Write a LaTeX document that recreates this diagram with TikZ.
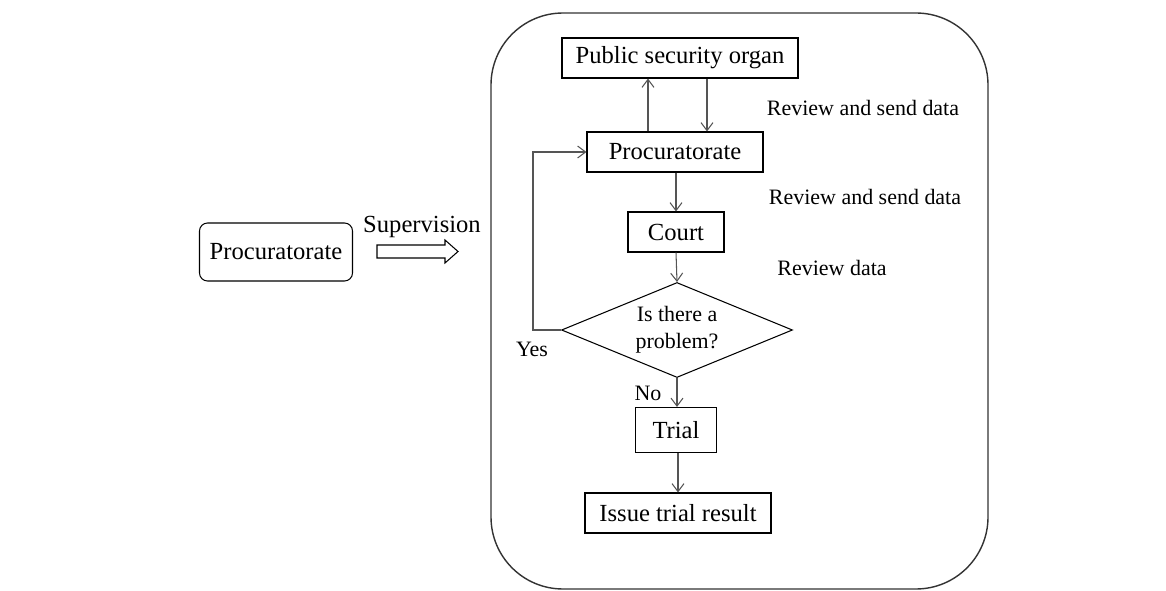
\documentclass[tikz,border=0pt]{standalone}
\usepackage{fontspec}
\setmainfont{Liberation Serif}
\usepackage{tikz}
\usetikzlibrary{calc,shapes.geometric,arrows.meta}

\definecolor{linegray}{RGB}{85,85,85}

\tikzset{
  box/.style={draw=black, line width=0.6pt, inner sep=0pt, font=\fontsize{14}{16}\selectfont},
  lbl/.style={inner sep=0pt, font=\fontsize{12.5}{15}\selectfont},
  arr/.style={draw=linegray, line width=0.6pt, -{Straight Barb[length=1.6mm,width=2.4mm]}}
}

\begin{document}
\begin{tikzpicture}
        \useasboundingbox (0,0) rectangle (23.32,11.8);

        % outer frame
        \draw[line width=0.8pt, draw=black!80, rounded corners=1.44cm] (9.82,0.02) rectangle (19.76,11.54);

        % left node
        \node[box, rounded corners=0.16cm, minimum width=3.06cm, minimum height=1.16cm] (lproc) at (5.52,6.76) {Procuratorate};
        \node[inner sep=0pt, font=\fontsize{14}{16}\selectfont] (sup) at (8.44,7.26) {Supervision};

        % hollow arrow
        \draw[line width=0.6pt] (7.54,6.9) -- (8.9,6.9) -- (8.9,7.0) -- (9.16,6.77)
              -- (8.9,6.54) -- (8.9,6.64) -- (7.54,6.64) -- cycle;

        % flow nodes
        \node[box, minimum width=4.72cm, minimum height=0.8cm] (pso) at (13.6,10.64) {Public security organ};
        \node[box, minimum width=3.52cm, minimum height=0.8cm] (proc) at (13.5,8.76) {Procuratorate};
        \node[box, minimum width=1.92cm, minimum height=0.8cm] (court) at (13.52,7.16) {Court};
        \node[draw=black, line width=0.6pt, diamond, aspect=2.4, inner sep=0pt,
              minimum width=4.62cm, minimum height=1.9cm, align=center,
              font=\fontsize{12.5}{15.3}\selectfont] (dia) at (13.54,5.2) {Is there a\\problem?};
        \node[box, minimum width=1.62cm, minimum height=0.9cm] (trial) at (13.52,3.2) {Trial};
        \node[box, minimum width=3.72cm, minimum height=0.8cm] (issue) at (13.56,1.54) {Issue trial result};

        % side labels
        \node[lbl] (rs1) at (17.26,9.64) {Review and send data};
        \node[lbl] (rs2) at (17.3,7.86) {Review and send data};
        \node[lbl] (rd) at (16.64,6.44) {Review data};
        \node[lbl] (yes) at (10.64,4.82) {Yes};
        \node[lbl] (no) at (12.96,3.94) {No};

        % arrows between pso and proc
        \draw[arr] ([xshift=-0.54cm]proc.north) -- ([xshift=-0.54cm]proc.north |- pso.south);
        \draw[arr] ([xshift=0.64cm]proc.north |- pso.south) -- ([xshift=0.64cm]proc.north);

        % main flow
        \draw[arr] (court.north |- proc.south) -- (court.north);
        \draw[arr] (court.south) -- (dia.north);
        \draw[arr] (dia.south) -- (dia.south |- trial.north);
        \draw[arr] (issue.north |- trial.south) -- (issue.north);

        % back to procuratorate
        \draw[arr] (dia.west) -- ++(-0.56,0) |- (proc.west);
\end{tikzpicture}
\end{document}
